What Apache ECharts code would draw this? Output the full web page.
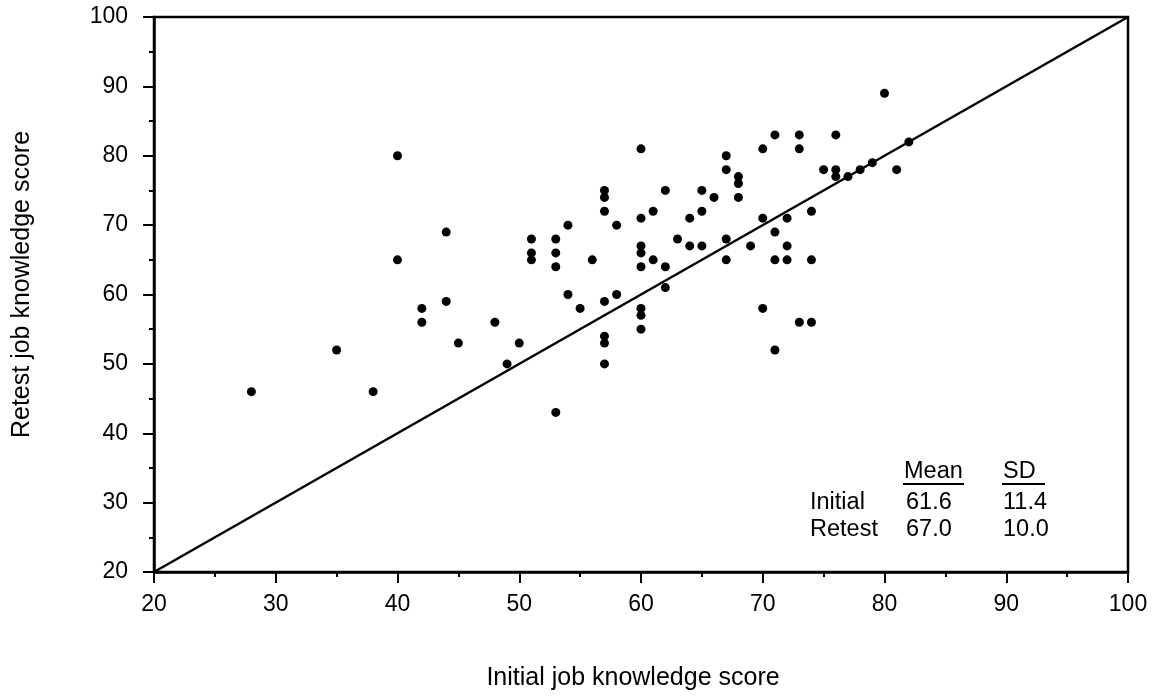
<!DOCTYPE html>
<html>
<head>
<meta charset="utf-8">
<script src="https://cdn.jsdelivr.net/npm/echarts@6/dist/echarts.min.js"></script>
<style>
html,body{margin:0;padding:0;background:#fff;}
#chart{width:1159px;height:696px;}
</style>
</head>
<body>
<div id="chart"></div>
<script>
// Initial job knowledge score (x) and retest score (y), one entry per person
const initialScores = [28,35,38,40,40,42,42,44,44,45, 48,49,50,51,51,51,53,53,53,53, 54,54,55,56,57,57,57,57,57,57, 57,58,58,60,60,60,60,60,60,60, 60,61,61,62,62,62,63,64,64,65, 65,65,66,67,67,67,67,68,68,68, 69,70,70,70,71,71,71,71,72,72, 72,73,73,73,74,74,74,75,76,76, 76,77,78,79,80,81,82];
const retestScores  = [46,52,46,80,65,58,56,69,59,53, 56,50,53,68,66,65,68,66,64,43, 70,60,58,65,75,74,72,59,54,53, 50,70,60,81,71,67,66,64,58,57, 55,72,65,75,64,61,68,71,67,75, 72,67,74,80,78,68,65,77,76,74, 67,81,71,58,83,69,65,52,71,67, 65,83,81,56,72,65,56,78,83,78, 77,77,78,79,89,78,82];
// identity line endpoints
const identityLine = [20, 100];
// summary table
const statHeaders = ['Mean', 'SD'];
const statRows = ['Initial', 'Retest'];
const statMeans = ['61.6', '67.0'];
const statSDs = ['11.4', '10.0'];

const FONT = '"Liberation Sans", Arial, Helvetica, sans-serif';
const chart = echarts.init(document.getElementById('chart'));

const points = initialScores.map((x, i) => [x, retestScores[i]]);
const axisCommon = {
  type: 'value', min: 20, max: 100, interval: 10,
  axisLine: {show: true, onZero: false, lineStyle: {color: '#000', width: 2.5}},
  axisTick: {show: true, inside: false, length: 11, lineStyle: {color: '#000', width: 2}},
  minorTick: {show: true, splitNumber: 2, length: 5, lineStyle: {color: '#000', width: 2}},
  splitLine: {show: false},
  axisLabel: {color: '#000', fontFamily: FONT, fontSize: 23},
  nameTextStyle: {color: '#000', fontFamily: FONT, fontSize: 25}
};

const TF = '23.5px ' + FONT;
const graphics = [];
const colX = [810, 904, 1003];
const headY = 472;
const rowY = [503, 530];
function txt(x, yc, s) {
  return {type:'text', x: x, y: yc, style:{text:s, font:TF, fill:'#000', textVerticalAlign:'middle'}};
}
graphics.push(txt(colX[1], headY, statHeaders[0]));
graphics.push(txt(colX[2], headY, statHeaders[1]));
graphics.push({type:'line', shape:{x1:903, y1:484, x2:964, y2:484}, style:{stroke:'#000', lineWidth:2}});
graphics.push({type:'line', shape:{x1:1002, y1:484, x2:1045, y2:484}, style:{stroke:'#000', lineWidth:2}});
statRows.forEach((r, i) => {
  graphics.push(txt(colX[0], rowY[i], r));
  graphics.push(txt(colX[1] + 2, rowY[i], statMeans[i]));
  graphics.push(txt(colX[2], rowY[i], statSDs[i]));
});

chart.setOption({
  animation: false,
  backgroundColor: '#fff',
  grid: {left: 154, right: 31, top: 17, bottom: 120, show: true, borderColor: '#000', borderWidth: 2.5, containLabel: false},
  xAxis: Object.assign({}, axisCommon, {
    name: 'Initial job knowledge score', nameLocation: 'middle', nameGap: 94,
    nameTextStyle: Object.assign({}, axisCommon.nameTextStyle, {padding: [0, 16, 0, 0]}),
    axisLabel: Object.assign({}, axisCommon.axisLabel, {margin: 21})
  }),
  yAxis: Object.assign({}, axisCommon, {
    name: 'Retest job knowledge score', nameLocation: 'middle', nameGap: 119,
    nameTextStyle: Object.assign({}, axisCommon.nameTextStyle, {padding: [0, 0, 0, 20]}),
    axisLabel: Object.assign({}, axisCommon.axisLabel, {margin: 26})
  }),
  graphic: graphics,
  series: [
    {
      type: 'line', data: [[identityLine[0], identityLine[0]], [identityLine[1], identityLine[1]]],
      symbol: 'none', lineStyle: {color: '#000', width: 2.5}, silent: true, z: 2
    },
    {
      type: 'scatter', data: points, symbol: 'circle', symbolSize: 9,
      itemStyle: {color: '#000', opacity: 1}, z: 3
    }
  ]
});
</script>
</body>
</html>
